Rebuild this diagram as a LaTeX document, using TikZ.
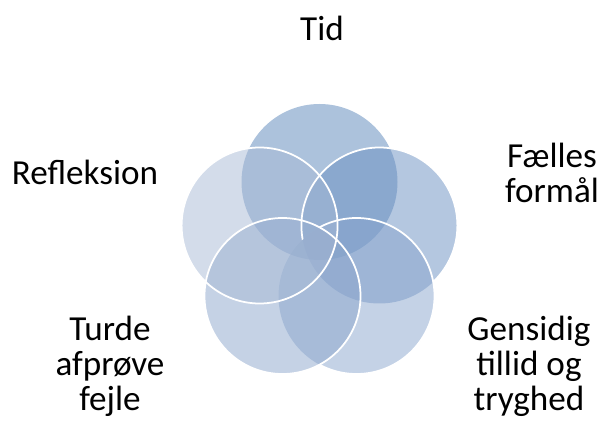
\documentclass[tikz,border=0pt]{standalone}
\usepackage{fontspec}
\setmainfont{Carlito}[Ligatures={Common,Rare}]
\begin{document}
\begin{tikzpicture}[x=0.03cm,y=-0.03cm]
  % one tint per petal, all laid at half opacity
  \definecolor{tintT}{RGB}{89,133,185}
  \definecolor{tintR}{RGB}{105,143,193}
  \definecolor{tintBR}{RGB}{137,165,205}
  \definecolor{tintBL}{RGB}{139,165,203}
  \definecolor{tintL}{RGB}{167,185,213}
  \tikzset{
    petal/.style={fill=#1, fill opacity=0.5},
    rim/.style={draw=white, line width=1.5pt},
    caption/.style={font=\fontsize{30}{30}\selectfont, align=center,
      text=black, inner sep=0pt}
  }
  \useasboundingbox (0,0) rectangle (603,425);
  \def\rad{78}

  % centres of the five petals (regular pentagon)
  \coordinate (cT)  at (319.5,182);
  \coordinate (cR)  at (379.4,225.5);
  \coordinate (cBR) at (356.5,296);
  \coordinate (cBL) at (282.5,296);
  \coordinate (cL)  at (259.6,225.5);

  % translucent fills
  \fill[petal=tintT]  (cT)  circle (\rad);
  \fill[petal=tintR]  (cR)  circle (\rad);
  \fill[petal=tintBR] (cBR) circle (\rad);
  \fill[petal=tintBL] (cBL) circle (\rad);
  \fill[petal=tintL]  (cL)  circle (\rad);

  % white rims, hidden where a later petal lies on top
  \begin{scope}[even odd rule]
    \clip (0,0) rectangle (603,425) (cBR) circle (\rad);
    \draw[rim] (cR) circle (\rad);
  \end{scope}
  \begin{scope}[even odd rule]
    \clip (0,0) rectangle (603,425) (cBL) circle (\rad);
    \draw[rim] (cBR) circle (\rad);
  \end{scope}
  \draw[rim] (cBL) circle (\rad);
  \draw[rim] (cL) circle (\rad);

  % labels (anchored on the baseline of their last line)
  \node[caption, anchor=base] (tid)     at (322,41)  {Tid};
  \node[caption, anchor=base] (refl)    at (85,185)  {Refleksion};
  \node[caption, anchor=base] (faelles) at (552,203) {Fælles\\formål};
  \node[caption, anchor=base] (turde)   at (110,411) {Turde\\afprøve\\fejle};
  \node[caption, anchor=base] (gens)    at (529,411) {Gensidig\\tillid og\\tryghed};
\end{tikzpicture}
\end{document}
